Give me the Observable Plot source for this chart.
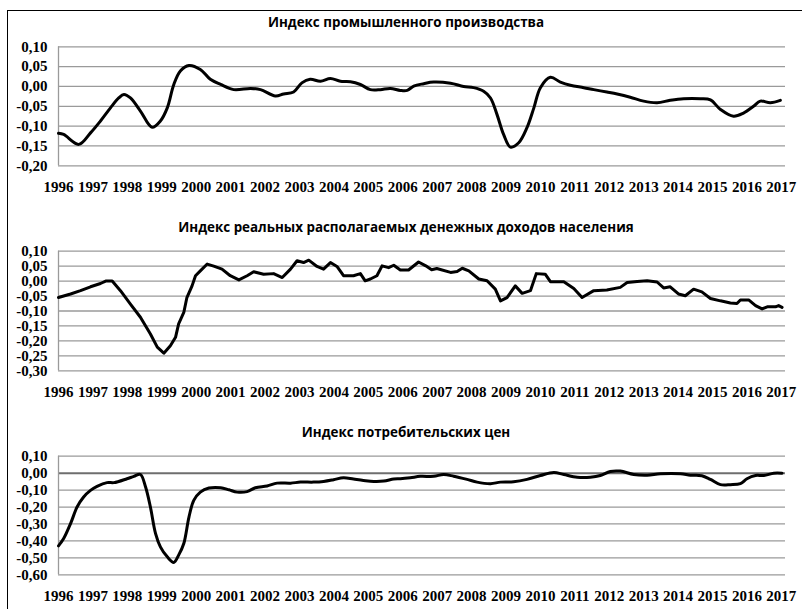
<!DOCTYPE html>
<html>
<head>
<meta charset="utf-8">
<script src="https://cdn.jsdelivr.net/npm/d3@7"></script>
<script src="https://cdn.jsdelivr.net/npm/@observablehq/plot@0.6"></script>
<style>
  html, body { margin: 0; padding: 0; background: #fff; }
  #wrap { position: relative; width: 802px; height: 609px; overflow: hidden; background: #fff; }
  #border { position: absolute; left: 7px; top: 10px; width: 900px; height: 800px; border-left: 1px solid #000; border-top: 1px solid #000; }
  .panel { position: absolute; left: 0; }
  .ttl { position: absolute; transform: translate(-50%, -50%); white-space: nowrap;
         font-family: "Open Sans", sans-serif; font-weight: bold; font-size: 13.4px; color: #000; }
</style>
</head>
<body>
<div id="wrap"><div id="border"></div></div>
<script>
const titles = [
  "Индекс промышленного производства",
  "Индекс реальных располагаемых денежных доходов населения",
  "Индекс потребительских цен"
];
const yearTicks = [1996,1997,1998,1999,2000,2001,2002,2003,2004,2005,2006,2007,2008,2009,2010,2011,2012,2013,2014,2015,2016,2017];

const prodYears = [1996.0,1996.15,1996.59,1996.93,1997.22,1997.51,1997.75,1997.9,1998.09,1998.38,1998.72,1998.96,1999.16,1999.35,1999.54,1999.79,2000.12,2000.41,2000.71,2001.09,2001.58,2001.87,2002.30,2002.54,2002.83,2003.07,2003.31,2003.61,2003.90,2004.19,2004.48,2004.77,2005.06,2005.35,2005.64,2005.93,2006.13,2006.32,2006.61,2006.90,2007.39,2007.77,2008.06,2008.35,2008.55,2008.74,2008.93,2009.13,2009.37,2009.61,2009.81,2010.0,2010.29,2010.58,2010.87,2011.26,2011.55,2011.93,2012.23,2012.61,2013.0,2013.39,2013.77,2014.16,2014.65,2014.94,2015.23,2015.61,2015.90,2016.19,2016.39,2016.68,2016.97];
const prodValues = [-0.118,-0.121,-0.146,-0.117,-0.087,-0.054,-0.029,-0.020,-0.029,-0.062,-0.103,-0.087,-0.054,0.005,0.039,0.053,0.043,0.018,0.005,-0.008,-0.005,-0.008,-0.024,-0.019,-0.014,0.009,0.018,0.013,0.020,0.013,0.012,0.005,-0.008,-0.008,-0.005,-0.010,-0.010,0.001,0.007,0.011,0.008,0.000,-0.003,-0.012,-0.029,-0.071,-0.121,-0.153,-0.142,-0.104,-0.054,-0.003,0.023,0.011,0.003,-0.003,-0.008,-0.014,-0.019,-0.027,-0.037,-0.041,-0.035,-0.031,-0.031,-0.034,-0.058,-0.075,-0.067,-0.050,-0.037,-0.041,-0.035];

const incomeYears = [1996.0,1996.35,1996.64,1996.93,1997.22,1997.37,1997.56,1997.80,1998.09,1998.38,1998.67,1998.87,1999.06,1999.25,1999.40,1999.49,1999.64,1999.73,1999.88,1999.98,2000.12,2000.32,2000.51,2000.75,2000.99,2001.24,2001.48,2001.67,2001.96,2002.25,2002.50,2002.74,2002.93,2003.12,2003.27,2003.51,2003.70,2003.90,2004.09,2004.28,2004.57,2004.77,2004.91,2005.06,2005.25,2005.40,2005.59,2005.74,2005.93,2006.17,2006.46,2006.67,2006.84,2006.99,2007.39,2007.58,2007.73,2007.92,2008.21,2008.45,2008.69,2008.84,2009.03,2009.27,2009.47,2009.71,2009.88,2010.14,2010.29,2010.68,2010.97,2011.21,2011.55,2011.93,2012.32,2012.52,2012.81,2013.10,2013.39,2013.58,2013.77,2014.01,2014.21,2014.45,2014.69,2014.94,2015.23,2015.52,2015.71,2015.81,2016.05,2016.25,2016.44,2016.59,2016.83,2016.92,2017.02];
const incomeValues = [-0.055,-0.043,-0.032,-0.019,-0.008,0.000,0.000,-0.032,-0.077,-0.121,-0.177,-0.221,-0.241,-0.216,-0.188,-0.143,-0.105,-0.055,-0.016,0.018,0.034,0.057,0.050,0.040,0.018,0.004,0.018,0.031,0.023,0.025,0.012,0.040,0.068,0.062,0.070,0.049,0.040,0.062,0.049,0.018,0.018,0.025,0.001,0.007,0.018,0.051,0.045,0.053,0.037,0.037,0.064,0.051,0.038,0.042,0.029,0.032,0.043,0.034,0.007,0.001,-0.027,-0.066,-0.055,-0.016,-0.041,-0.032,0.025,0.023,-0.002,-0.002,-0.025,-0.055,-0.032,-0.030,-0.021,-0.005,-0.001,0.001,-0.003,-0.023,-0.019,-0.043,-0.049,-0.027,-0.036,-0.058,-0.066,-0.073,-0.075,-0.063,-0.063,-0.082,-0.093,-0.086,-0.086,-0.082,-0.088];

const cpiYears = [1996.0,1996.15,1996.35,1996.54,1996.73,1996.93,1997.12,1997.41,1997.61,1997.99,1998.19,1998.38,1998.53,1998.67,1998.82,1998.96,1999.16,1999.35,1999.49,1999.64,1999.79,1999.93,2000.12,2000.37,2000.71,2000.95,2001.19,2001.48,2001.72,2002.06,2002.35,2002.74,2003.03,2003.41,2003.70,2003.99,2004.28,2004.57,2004.86,2005.16,2005.45,2005.74,2005.93,2006.22,2006.51,2006.90,2007.19,2007.48,2007.87,2008.16,2008.55,2008.84,2009.22,2009.61,2010.0,2010.39,2010.68,2011.07,2011.45,2011.74,2012.03,2012.32,2012.71,2013.10,2013.49,2014.07,2014.36,2014.69,2014.94,2015.23,2015.52,2015.81,2016.00,2016.25,2016.49,2016.78,2017.02];
const cpiValues = [-0.429,-0.386,-0.298,-0.200,-0.141,-0.102,-0.078,-0.056,-0.056,-0.033,-0.019,-0.008,-0.082,-0.200,-0.357,-0.435,-0.494,-0.527,-0.484,-0.415,-0.259,-0.161,-0.112,-0.088,-0.086,-0.098,-0.112,-0.109,-0.086,-0.076,-0.059,-0.059,-0.053,-0.053,-0.049,-0.039,-0.027,-0.035,-0.043,-0.049,-0.047,-0.035,-0.033,-0.027,-0.019,-0.019,-0.008,-0.018,-0.037,-0.053,-0.062,-0.053,-0.051,-0.037,-0.014,0.004,-0.008,-0.024,-0.024,-0.014,0.010,0.012,-0.008,-0.012,-0.004,-0.004,-0.012,-0.015,-0.037,-0.068,-0.068,-0.062,-0.033,-0.014,-0.014,0.000,0.000];

const fmt = d => (Math.abs(d) < 1e-9 ? 0 : d).toFixed(2).replace(".", ",");

const panels = [
  {title: titles[0], years: prodYears, values: prodValues, yMin: -0.20, yMax: 0.10, step: 0.05,
   top: 0, height: 200, mTop: 46.3, mBottom: 34.7, titleY: 22, zeroDark: false, curve: "catmull-rom"},
  {title: titles[1], years: incomeYears, values: incomeValues, yMin: -0.30, yMax: 0.10, step: 0.05,
   top: 200, height: 200, mTop: 50.7, mBottom: 29.7, titleY: 227, zeroDark: false, curve: "linear"},
  {title: titles[2], years: cpiYears, values: cpiValues, yMin: -0.60, yMax: 0.10, step: 0.10,
   top: 400, height: 209, mTop: 55.7, mBottom: 34.7, titleY: 432, zeroDark: true, curve: "catmull-rom"}
];

const wrap = document.getElementById("wrap");

for (const p of panels) {
  const n = Math.round((p.yMax - p.yMin) / p.step);
  const yTicks = d3.range(n + 1).map(i => +(p.yMin + i * p.step).toFixed(2));
  const data = p.years.map((x, i) => ({x, y: p.values[i]}));
  const chart = Plot.plot({
    width: 802,
    height: p.height,
    marginLeft: 58,
    marginRight: 17,
    marginTop: p.mTop,
    marginBottom: p.mBottom,
    style: {fontFamily: "'Liberation Serif', 'Times New Roman', serif", fontSize: "15px", fontWeight: "bold", color: "#000", background: "transparent", overflow: "visible"},
    x: {domain: [1996, 2017.12], ticks: yearTicks, tickFormat: d => String(d), tickSize: 0, tickPadding: 16, label: null},
    y: {domain: [p.yMin, p.yMax], ticks: yTicks, tickFormat: fmt, tickSize: 0, tickPadding: 11, label: null},
    marks: [
      Plot.ruleY(yTicks, {stroke: d => (p.zeroDark && d === 0) ? "#6e6e6e" : "#9a9a9a",
                          strokeWidth: d => (p.zeroDark && d === 0) ? 2 : 1.3}),
      Plot.ruleX([1996], {stroke: "#9a9a9a", strokeWidth: 1.3}),
      Plot.line(data, {x: "x", y: "y", stroke: "#000", strokeWidth: 3, curve: p.curve, strokeLinejoin: "round"})
    ]
  });
  const div = document.createElement("div");
  div.className = "panel";
  div.style.top = p.top + "px";
  div.appendChild(chart);
  wrap.appendChild(div);
  const t = document.createElement("div");
  t.className = "ttl";
  t.style.left = "406px";
  t.style.top = p.titleY + "px";
  t.textContent = p.title;
  wrap.appendChild(t);
}
</script>
</body>
</html>
